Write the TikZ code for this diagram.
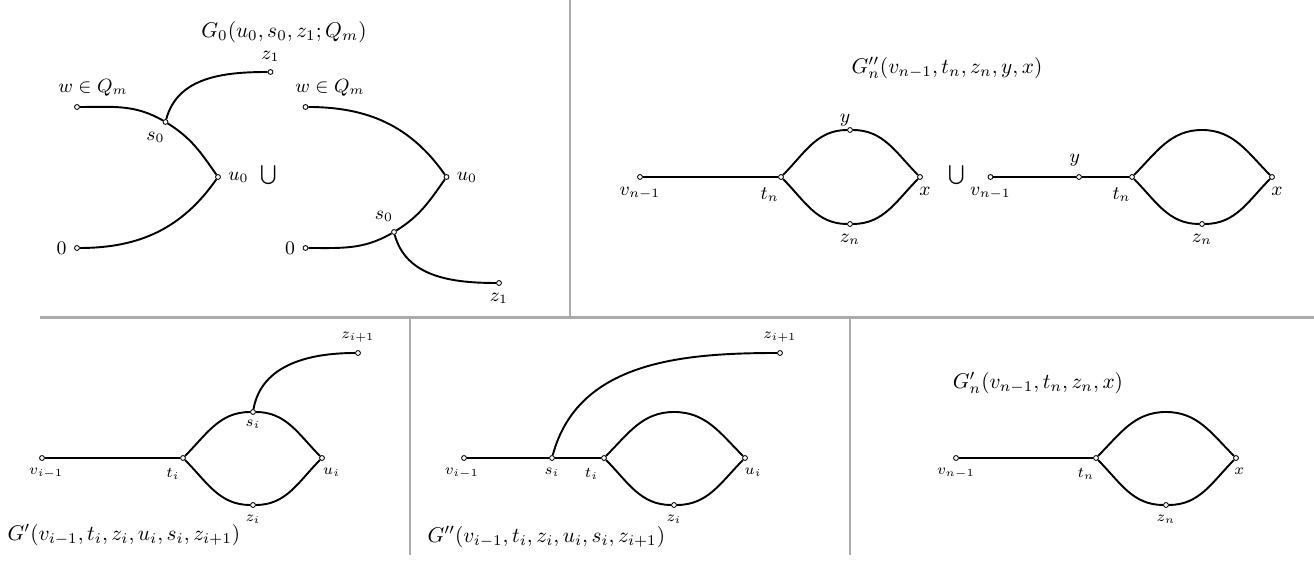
\documentclass[tikz,border=0pt]{standalone}
\usepackage{amsmath,amssymb}
\usepackage{tikz}
\usetikzlibrary{positioning, calc}

\begin{document}
\begin{tikzpicture}[
    x=0.0165cm, y=0.0165cm,
    vertex/.style={circle, draw, fill=white, inner sep=0pt, minimum size=2.3pt, line width=0.4pt},
    every label/.style={font=\scriptsize},
    big/.style={label distance=0pt, every label/.style={font=\small}},
    edge/.style={draw, line width=0.9pt},
    divider/.style={draw=black!33, line width=1.4pt},
    title/.style={font=\normalsize}
]
\useasboundingbox (0,0) rectangle (1314,-568);

\draw[divider] (570,0) -- (570,-318);
\draw[divider] (40,-318) -- (1314,-318);
\draw[divider] (410,-318) -- (410,-555);
\draw[divider] (850,-318) -- (850,-555);

\begin{scope}[big]
\node[title] (g0) at (284,-32) {$G_0(u_0,s_0,z_1;Q_m)$};
\node[vertex, label={[xshift=7.5pt]above:$w\in Q_m$}] (wa) at (77,-107) {};
\node[vertex, label={[xshift=-4.7pt]below:$s_0$}] (sa) at (165.5,-122) {};
\node[vertex, label=above:$z_1$] (za) at (270.5,-72) {};
\node[vertex, label=right:$u_0$] (ua) at (218,-177) {};
\node[vertex, label=left:$0$] (oa) at (77,-248) {};
\node[font=\small] (cupa) at (269,-175) {$\bigcup$};
\node[vertex, label={[xshift=11.5pt]above:$w\in Q_m$}] (wb) at (305.5,-107) {};
\node[vertex, label=right:$u_0$] (ub) at (446.5,-177) {};
\node[vertex, label={[xshift=-4.7pt]above:$s_0$}] (sb) at (394,-232) {};
\node[vertex, label=left:$0$] (ob) at (305.5,-248) {};
\node[vertex, label=below:$z_1$] (zb) at (499,-283) {};
\draw[edge] (wa) to[out=0, in=150] (sa) to[out=-32, in=125] (ua);
\draw[edge] (oa) to[out=0, in=235] (ua);
\draw[edge] (sa) to[out=75, in=180] (za);
\draw[edge] (wb) to[out=0, in=125] (ub);
\draw[edge] (ob) to[out=0, in=210] (sb) to[out=32, in=235] (ub);
\draw[edge] (sb) to[out=-75, in=180] (zb);

\node[title] (gnn) at (947,-68) {$G''_n(v_{n-1},t_n,z_n,y,x)$};
\node[vertex, label=below:$v_{n-1}$] (va) at (640,-177) {};
\node[vertex, label={[xshift=-5.3pt]below:$t_n$}] (ta) at (781,-177) {};
\node[vertex, label={[xshift=-2.3pt, yshift=-3pt]above:$y$}] (ya) at (850,-130) {};
\node[vertex, label={[xshift=2.3pt]below:$x$}] (xa) at (920,-177) {};
\node[vertex, label=below:$z_n$] (na) at (850,-224) {};
\node[font=\small] (cupb) at (957,-175) {$\bigcup$};
\node[vertex, label=below:$v_{n-1}$] (vb) at (990.5,-177) {};
\node[vertex, label={[xshift=-2pt]above:$y$}] (yb) at (1079,-177) {};
\node[vertex, label={[xshift=-4.9pt]below:$t_n$}] (tb) at (1132,-177) {};
\coordinate (pb) at (1202,-130);
\node[vertex, label={[xshift=2.3pt]below:$x$}] (xb) at (1272,-177) {};
\node[vertex, label=below:$z_n$] (nb) at (1202,-224) {};
\draw[edge] (va) -- (ta);
\draw[edge] (ta) to[out=45, in=180] (ya) to[out=0, in=135] (xa);
\draw[edge] (ta) to[out=-45, in=180] (na) to[out=0, in=-135] (xa);
\draw[edge] (vb) -- (yb) -- (tb);
\draw[edge] (tb) to[out=45, in=180] (pb) to[out=0, in=135] (xb);
\draw[edge] (tb) to[out=-45, in=180] (nb) to[out=0, in=-135] (xb);
\end{scope}

\node[vertex, label={[xshift=2pt]below:$v_{i-1}$}] (vc) at (42,-458) {};
\node[vertex, label={[xshift=-4.7pt]below:$t_i$}] (tc) at (183,-458) {};
\node[vertex, label={[yshift=1pt]below:$s_i$}] (sc) at (253,-412) {};
\node[vertex, label={[xshift=4.5pt]below:$u_i$}] (uc) at (322,-458) {};
\node[vertex, label=below:$z_i$] (zc) at (253,-505) {};
\node[vertex, label=above:$z_{i+1}$] (zzc) at (358,-353) {};
\node[title, anchor=west] (gc) at (0,-535) {$G'(v_{i-1},t_i,z_i,u_i,s_i,z_{i+1})$};
\draw[edge] (vc) -- (tc);
\draw[edge] (tc) to[out=45, in=180] (sc) to[out=0, in=135] (uc);
\draw[edge] (tc) to[out=-45, in=180] (zc) to[out=0, in=-135] (uc);
\draw[edge] (sc) to[out=80, in=180] (zzc);

\node[vertex, label={[xshift=-1pt]below:$v_{i-1}$}] (vd) at (464,-458) {};
\node[vertex, label=below:$s_i$] (sd) at (552,-458) {};
\node[vertex, label={[xshift=-5.9pt]below:$t_i$}] (td) at (604,-458) {};
\coordinate (pd) at (674,-412);
\node[vertex, label={[xshift=3.8pt]below:$u_i$}] (ud) at (745,-458) {};
\node[vertex, label=below:$z_i$] (zd) at (674,-505) {};
\node[vertex, label=above:$z_{i+1}$] (zzd) at (780,-353) {};
\node[title, anchor=west] (gd) at (420,-537) {$G''(v_{i-1},t_i,z_i,u_i,s_i,z_{i+1})$};
\draw[edge] (vd) -- (sd) -- (td);
\draw[edge] (td) to[out=45, in=180] (pd) to[out=0, in=135] (ud);
\draw[edge] (td) to[out=-45, in=180] (zd) to[out=0, in=-135] (ud);
\draw[edge] (sd) to[out=75, in=180] (zzd);

\node[title] (gne) at (1038,-383) {$G'_n(v_{n-1},t_n,z_n,x)$};
\node[vertex, label=below:$v_{n-1}$] (ve) at (956,-458) {};
\node[vertex, label={[xshift=-4.7pt]below:$t_n$}] (te) at (1096,-458) {};
\coordinate (pe) at (1166,-412);
\node[vertex, label={[xshift=1.5pt]below:$x$}] (xe) at (1236,-458) {};
\node[vertex, label=below:$z_n$] (ze) at (1166,-505) {};
\draw[edge] (ve) -- (te);
\draw[edge] (te) to[out=45, in=180] (pe) to[out=0, in=135] (xe);
\draw[edge] (te) to[out=-45, in=180] (ze) to[out=0, in=-135] (xe);
\end{tikzpicture}
\end{document}
